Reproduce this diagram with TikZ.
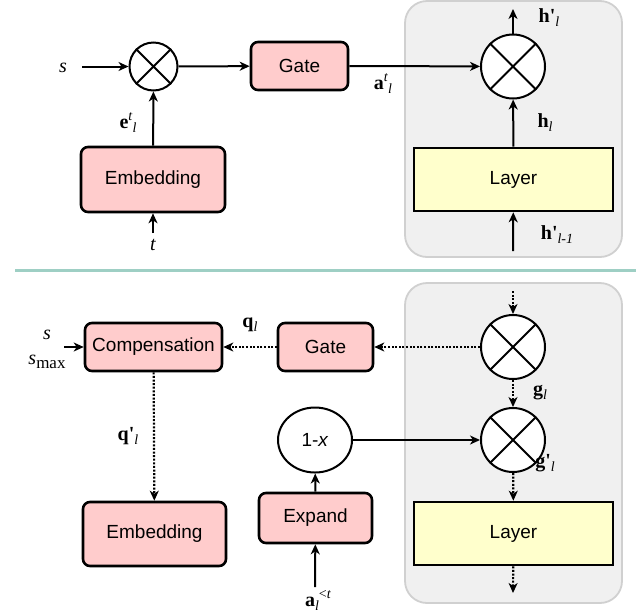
\documentclass[tikz,border=0pt]{standalone}
\usepackage{fontspec}
\setmainfont{Liberation Serif}
\setsansfont{Liberation Sans}
\usetikzlibrary{arrows.meta,shapes.geometric}
\definecolor{pinkfill}{HTML}{FFCCCC}
\definecolor{yellowfill}{HTML}{FFFFCC}
\definecolor{contfill}{HTML}{F0F0F0}
\definecolor{contdraw}{HTML}{D0D0D0}
\definecolor{sepcol}{HTML}{9ECFC4}
\newcommand{\pr}{\textquotesingle}
\newcommand{\mysub}[1]{\raisebox{-4pt}{\fontsize{14}{16}\selectfont\itshape #1}}
\newcommand{\mysup}[1]{\raisebox{8pt}{\fontsize{14}{16}\selectfont #1}}
\tikzset{
  pinkbox/.style={draw=black, line width=2.6pt, fill=pinkfill, rounded corners=7pt, inner sep=0pt, font=\sffamily\fontsize{19}{22}\selectfont},
  layerbox/.style={draw=black, line width=2.6pt, fill=yellowfill, inner sep=0pt, font=\sffamily\fontsize{19}{22}\selectfont},
  container/.style={draw=contdraw, line width=1.8pt, fill=contfill, rounded corners=22pt},
  otimes/.style={circle, draw=black, line width=2pt, fill=white, inner sep=0pt},
  arr/.style={line width=2pt, -{Stealth[length=10pt,width=9pt,inset=3pt]}},
  darr/.style={line width=2.2pt, dash pattern=on 2pt off 1.6pt, -{Stealth[length=10pt,width=9pt,inset=3pt]}},
  lbl/.style={inner sep=0pt, font=\rmfamily\fontsize{20}{23}\selectfont},
}
\begin{document}
\begin{tikzpicture}[x=1pt,y=-1pt]
\useasboundingbox (0,0) rectangle (636,614);
% containers
\draw[container] (405,1) rectangle (622,257);
\draw[container] (405,283) rectangle (622,603);
% separator
\draw[sepcol, line width=3pt] (15,270.5) -- (636,270.5);

% ---------- top ----------
\node[otimes, minimum size=48pt] (m1) at (153.5,66.5) {};
\draw[line width=2pt] (m1.north east) -- (m1.south west) (m1.north west) -- (m1.south east);
\node[pinkbox, minimum width=97pt, minimum height=48pt] (gate1) at (299.5,66) {Gate};
\node[pinkbox, minimum width=144pt, minimum height=65pt] (emb1) at (153,179.5) {Embedding};
\node[otimes, minimum size=64pt] (m2) at (513,66.5) {};
\draw[line width=2pt] (m2.north east) -- (m2.south west) (m2.north west) -- (m2.south east);
\node[layerbox, minimum width=199pt, minimum height=63pt] (layer1) at (513.5,179.5) {Layer};

\node[lbl] (s1) at (63,68) {\textit{s}};
\node[lbl] (t1) at (153,245) {\textit{t}};
\coordinate (s1e) at (82,66.5);
\coordinate (t1e) at (153,233);
\coordinate (h1out) at (513,9);
\coordinate (hin) at (513,251);
\draw[arr] (s1e) -- (m1);
\draw[arr] (m1) -- (gate1);
\draw[arr] (emb1) -- (m1);
\draw[arr] (t1e) -- (emb1);
\draw[arr] (gate1.east) -- (m2);
\draw[arr] (layer1) -- (m2);
\draw[arr] (m2) -- (h1out);
\draw[arr] (hin) -- (layer1);

\node[lbl] (el) at (128,123) {\textbf{e}\mysup{\textit{t}}\mysub{l}};
\node[lbl] (al) at (383,84) {\textbf{a}\mysup{\textit{t}}\mysub{l}};
\node[lbl] (hpl) at (549,18) {\textbf{h\pr}\mysub{l}};
\node[lbl] (hl) at (545,123) {\textbf{h}\mysub{l}};
\node[lbl] (hpl1) at (557,235) {\textbf{h\pr}\mysub{l-1}};

% ---------- bottom ----------
\node[otimes, minimum size=64pt] (m3) at (513,347) {};
\draw[line width=2pt] (m3.north east) -- (m3.south west) (m3.north west) -- (m3.south east);
\node[otimes, minimum size=64pt] (m4) at (513,440) {};
\draw[line width=2pt] (m4.north east) -- (m4.south west) (m4.north west) -- (m4.south east);
\node[layerbox, minimum width=199pt, minimum height=63pt] (layer2) at (513.5,533.5) {Layer};
\node[pinkbox, minimum width=95pt, minimum height=48pt] (gate2) at (325.5,347) {Gate};
\node[pinkbox, minimum width=137pt, minimum height=48pt] (comp) at (153.5,347) {Compensation};
\node[pinkbox, minimum width=143pt, minimum height=64pt] (emb2) at (154.5,534) {Embedding};
\node[ellipse, draw=black, line width=2pt, fill=white, minimum width=74pt, minimum height=65pt, inner sep=0pt, font=\sffamily\fontsize{19}{22}\selectfont] (onem) at (315,440) {1-\textit{x}};
\node[pinkbox, minimum width=113pt, minimum height=50pt] (expand) at (315.5,518) {Expand};

\coordinate (gtop) at (513,291);
\coordinate (lbot) at (513,593);
\coordinate (s2e) at (64,347);
\coordinate (ain) at (315,587);
\node[lbl] (s2) at (47,335) {\textit{s}};
\node[lbl] (smax) at (47,362) {\textit{s}\raisebox{-4pt}{\fontsize{17}{19}\selectfont max}};

\draw[darr] (gtop) -- (m3);
\draw[darr] (m3) -- (gate2);
\draw[darr] (gate2) -- (comp);
\draw[darr] (comp) -- (emb2);
\draw[darr] (m3) -- (m4);
\draw[darr] (m4) -- (layer2);
\draw[darr] (layer2) -- (lbot);
\draw[arr] (s2e) -- (comp);
\draw[arr] (onem) -- (m4);
\draw[arr] (expand) -- (onem);
\draw[arr] (ain) -- (expand);

\node[lbl] (ql) at (250,325) {\textbf{q}\mysub{l}};
\node[lbl] (qpl) at (128,436) {\textbf{q\pr}\mysub{l}};
\node[lbl] (gl) at (540,393) {\textbf{g}\mysub{l}};
\node[lbl] (gpl) at (545,463) {\textbf{g\pr}\mysub{l}};
\node[lbl] (alt) at (318,600) {\textbf{a}\mysub{l}\mysup{<\textit{t}}};
\end{tikzpicture}
\end{document}
